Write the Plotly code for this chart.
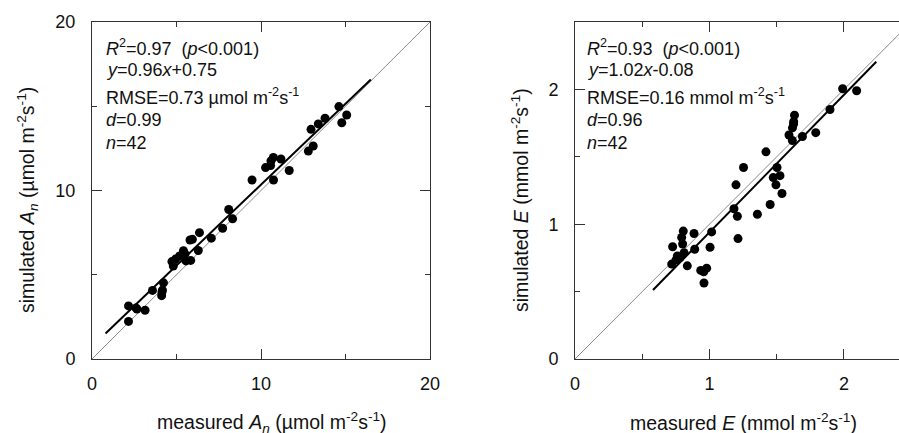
import plotly.graph_objects as go

# ---------------- data: left panel (net photosynthesis A_n) ----------------
an_measured = [2.16, 2.16, 2.66, 3.14, 3.58, 4.23, 4.17, 4.12, 4.73, 4.81,
               5.18, 5.41, 5.56, 5.84, 5.80, 5.94, 6.36, 6.29, 7.06, 7.73,
               8.09, 8.32, 9.47, 10.74, 10.27, 10.57, 10.73, 11.18, 11.67, 12.80,
               13.09, 12.96, 13.39, 13.79, 14.78, 15.07, 14.61, 4.94, 5.50, 4.14,
               2.60, 10.59]
an_simulated = [3.15, 2.23, 2.97, 2.89, 4.07, 4.52, 4.09, 3.76, 5.78, 5.52,
                6.11, 6.43, 5.82, 5.85, 7.06, 7.10, 7.50, 6.44, 7.17, 7.76,
                8.87, 8.32, 10.62, 10.62, 11.36, 11.48, 11.96, 11.87, 11.19, 12.34,
                12.64, 13.63, 13.95, 14.29, 14.02, 14.48, 14.98, 5.93, 6.23, 3.98,
                3.03, 11.75]
an_fit_x = [0.8, 16.5]
an_slope, an_intercept = 0.96, 0.75
an_range = [0, 20]
an_ticks = [0, 10, 20]

# ---------------- data: right panel (transpiration E) ----------------
e_measured = [0.726, 0.805, 0.793, 0.885, 0.800, 0.761, 0.751, 0.719, 0.811, 0.835,
              0.890, 1.016, 1.004, 0.935, 0.979, 0.959, 1.197, 1.253, 1.182, 1.207,
              1.212, 1.356, 1.420, 1.451, 1.474, 1.502, 1.524, 1.494, 1.539, 1.591,
              1.616, 1.617, 1.625, 1.632, 1.691, 1.790, 1.896, 1.990, 2.094, 0.957,
              0.780, 1.626]
e_simulated = [0.833, 0.949, 0.902, 0.931, 0.853, 0.765, 0.735, 0.704, 0.789, 0.691,
               0.814, 0.943, 0.829, 0.657, 0.674, 0.564, 1.292, 1.421, 1.115, 1.059,
               0.893, 1.074, 1.537, 1.146, 1.346, 1.421, 1.360, 1.292, 1.228, 1.662,
               1.621, 1.715, 1.743, 1.809, 1.651, 1.679, 1.851, 2.005, 1.990, 0.647,
               0.750, 1.760]
e_fit_x = [0.58, 2.24]
e_slope, e_intercept = 1.02, -0.08
e_xrange = [0, 2.409]
e_yrange = [0, 2.5]
e_ticks = [0, 1, 2]

an_stats = ["<i>R</i><sup>2</sup>=0.97 &nbsp;(<i>p</i>&lt;0.001)",
            "<i>y</i>=0.96<i>x</i>+0.75",
            "RMSE=0.73 µmol m<sup>-2</sup>s<sup>-1</sup>",
            "<i>d</i>=0.99",
            "<i>n</i>=42"]
e_stats = ["<i>R</i><sup>2</sup>=0.93 &nbsp;(<i>p</i>&lt;0.001)",
           "<i>y</i>=1.02<i>x</i>-0.08",
           "RMSE=0.16 mmol m<sup>-2</sup>s<sup>-1</sup>",
           "<i>d</i>=0.96",
           "<i>n</i>=42"]

W, H = 899, 433
FONT = "Arial, Liberation Sans, sans-serif"
FS_TICK = 18
FS_ANN = 18
FS_TITLE = 19.5
INK = "#111"

fig = go.Figure()

# 1:1 lines
fig.add_trace(go.Scatter(x=an_range, y=an_range, mode="lines",
                         line=dict(color="#8a8a8a", width=1), xaxis="x", yaxis="y"))
fig.add_trace(go.Scatter(x=e_yrange, y=e_yrange, mode="lines",
                         line=dict(color="#8a8a8a", width=1), xaxis="x2", yaxis="y2"))
# regression lines
fig.add_trace(go.Scatter(x=an_fit_x, y=[an_slope * v + an_intercept for v in an_fit_x],
                         mode="lines", line=dict(color="black", width=2), xaxis="x", yaxis="y"))
fig.add_trace(go.Scatter(x=e_fit_x, y=[e_slope * v + e_intercept for v in e_fit_x],
                         mode="lines", line=dict(color="black", width=2), xaxis="x2", yaxis="y2"))
# points
fig.add_trace(go.Scatter(x=an_measured, y=an_simulated, mode="markers",
                         marker=dict(color="black", size=9), xaxis="x", yaxis="y"))
fig.add_trace(go.Scatter(x=e_measured, y=e_simulated, mode="markers",
                         marker=dict(color="black", size=9), xaxis="x2", yaxis="y2"))

def ax(rng, ticks, minor_dtick, domain, mirror, standoff, **kw):
    d = dict(range=rng, domain=domain, tickvals=ticks, showline=True, linecolor="#333",
             linewidth=1, mirror=mirror, ticks="inside", ticklen=10, tickcolor="#333",
             tickwidth=1, showgrid=False, zeroline=False, automargin=False,
             tickfont=dict(family=FONT, size=FS_TICK, color=INK),
             minor=dict(ticks="inside", ticklen=5, tickcolor="#333", dtick=minor_dtick,
                        tick0=0, showgrid=False),
             ticklabelstandoff=standoff)
    d.update(kw)
    return d

ydom = [(H - 359) / H, (H - 22) / H]
fig.update_layout(
    width=W, height=H, margin=dict(l=0, r=0, t=0, b=0, autoexpand=False),
    paper_bgcolor="white", plot_bgcolor="white", showlegend=False,
    font=dict(family=FONT, size=FS_TICK, color=INK),
    xaxis=ax(an_range, an_ticks, 5, [92 / W, 430 / W], "ticks", 8, anchor="y"),
    yaxis=ax(an_range, an_ticks, 5, ydom, "ticks", 12, anchor="x"),
    xaxis2=ax(e_xrange, e_ticks, 0.5, [575 / W, 1.0], "ticks", 8, anchor="y2"),
    yaxis2=ax(e_yrange, e_ticks, 0.5, ydom, False, 12, anchor="x2"),
)

ann = []
baselines = [54, 76, 103, 126, 149]
for txt, b in zip(an_stats, baselines):
    ann.append(dict(text=txt, x=104 / W, y=(H - b + 6) / H, xref="paper", yref="paper",
                    xanchor="left", yanchor="middle", showarrow=False,
                    font=dict(family=FONT, size=FS_ANN, color=INK)))
for txt, b in zip(e_stats, baselines):
    ann.append(dict(text=txt, x=585 / W, y=(H - b + 6) / H, xref="paper", yref="paper",
                    xanchor="left", yanchor="middle", showarrow=False,
                    font=dict(family=FONT, size=FS_ANN, color=INK)))
# axis titles
ann.append(dict(text="measured <i>A</i><sub><i>n</i></sub> (µmol m<sup>-2</sup>s<sup>-1</sup>)",
                x=272 / W, y=(H - 422) / H, xref="paper", yref="paper", showarrow=False,
                xanchor="center", yanchor="middle", font=dict(family=FONT, size=FS_TITLE, color=INK)))
ann.append(dict(text="measured <i>E</i> (mmol m<sup>-2</sup>s<sup>-1</sup>)",
                x=743 / W, y=(H - 422) / H, xref="paper", yref="paper", showarrow=False,
                xanchor="center", yanchor="middle", font=dict(family=FONT, size=FS_TITLE, color=INK)))
ann.append(dict(text="simulated <i>A</i><sub><i>n</i></sub> (µmol m<sup>-2</sup>s<sup>-1</sup>)",
                x=27 / W, y=(H - 200) / H, xref="paper", yref="paper", showarrow=False,
                textangle=-90, xanchor="center", yanchor="middle",
                font=dict(family=FONT, size=FS_TITLE, color=INK)))
ann.append(dict(text="simulated <i>E</i> (mmol m<sup>-2</sup>s<sup>-1</sup>)",
                x=520 / W, y=(H - 200) / H, xref="paper", yref="paper", showarrow=False,
                textangle=-90, xanchor="center", yanchor="middle",
                font=dict(family=FONT, size=FS_TITLE, color=INK)))
fig.update_layout(annotations=ann)

fig.write_html("out.html", config={"displayModeBar": False},
               post_script="document.body.style.margin='0';document.body.style.overflow='hidden';")
